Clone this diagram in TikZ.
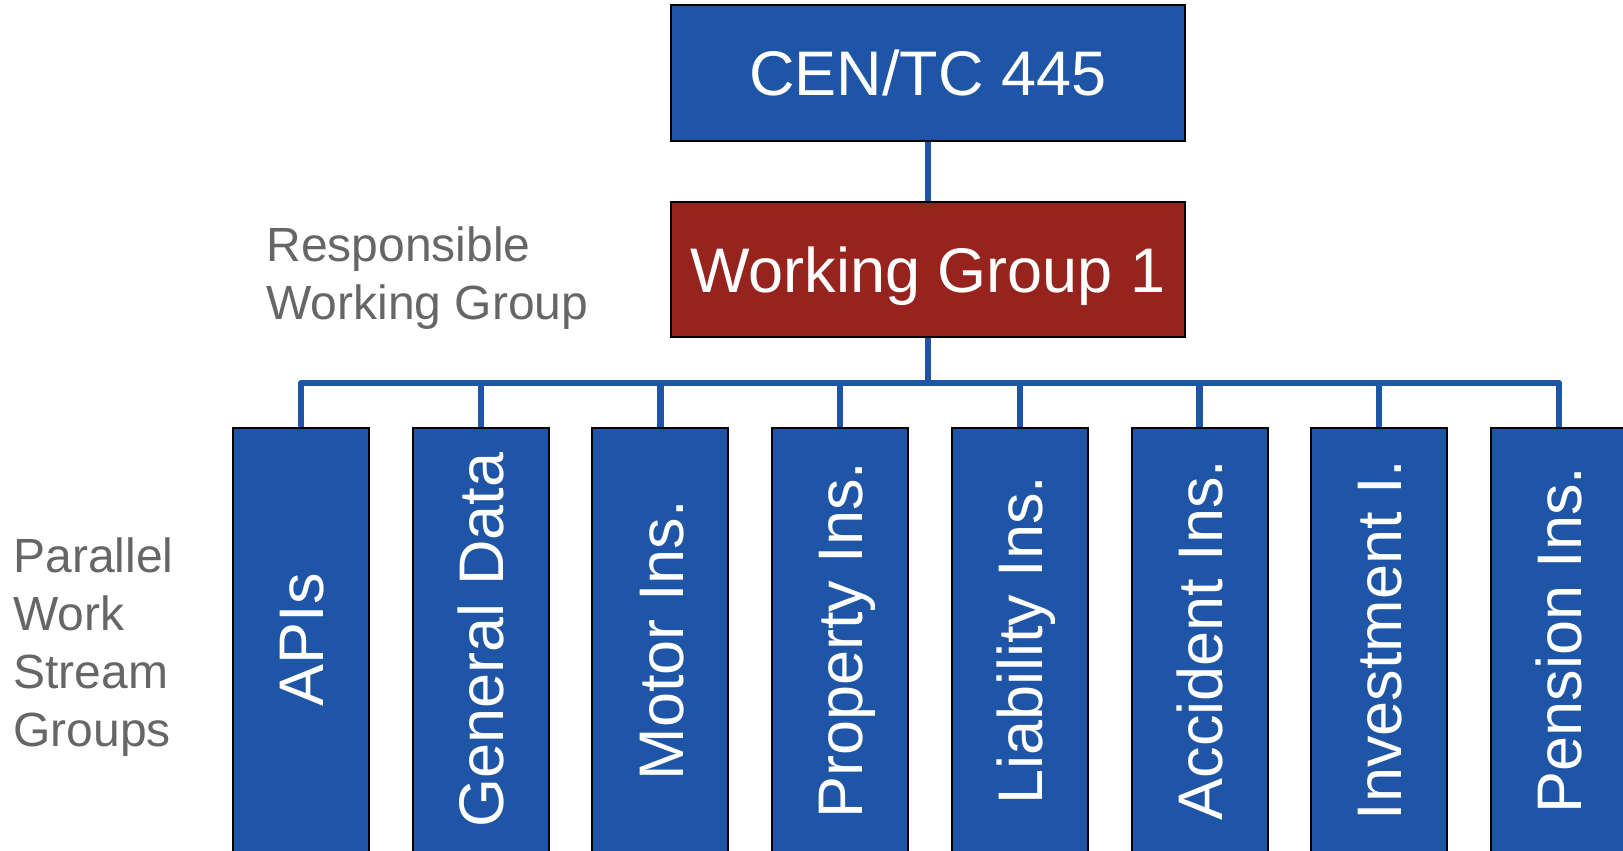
\documentclass[tikz,border=0pt]{standalone}
\usepackage{fontspec}
\setmainfont{Liberation Sans}
\definecolor{tcblue}{RGB}{31,85,166}
\definecolor{wgred}{RGB}{150,35,30}
\definecolor{notegray}{RGB}{102,102,102}
\begin{document}
\begin{tikzpicture}[x=0.5pt,y=-0.5pt,
    box/.style={draw=black,line width=1pt,fill=tcblue,text=white,inner sep=0pt,
      font=\fontsize{31.5pt}{37pt}\selectfont,text height=22.6pt,text depth=0pt},
    link/.style={draw=tcblue,line width=3.2pt,line join=round},
    note/.style={text=notegray,font=\fontsize{24pt}{29pt}\selectfont,align=left,
      anchor=north west,inner sep=0pt}]
    \useasboundingbox (0,0) rectangle (1623,851);

    \node[box,minimum width=257pt,minimum height=68pt] (tc) at (928,73) {CEN/TC 445};
    \node[box,fill=wgred,minimum width=257pt,minimum height=67.5pt] (wg) at (928,269.5) {Working Group 1};
    \coordinate (bus) at (928,383);

    \foreach \wsname [count=\i] in {APIs,General Data,Motor Ins.,Property Ins.,Liability Ins.,Accident Ins.,Investment I.,Pension Ins.}
        \node[box,rotate=90,minimum width=212pt,minimum height=68pt] (ws\i) at ({301+(\i-1)*179.7},640) {\wsname};

    \draw[link] (tc) -- (wg);
    \draw[link] (wg) -- (bus);
    \draw[link] (ws1.east) -- (ws1.east |- bus) -- (ws8.east |- bus) -- (ws8.east);
    \foreach \i in {2,...,7}
        \draw[link] (ws\i.east) -- (ws\i.east |- bus);

    \node[note] (resp) at (266,226) {Responsible\\Working Group};
    \node[note] (para) at (13,537) {Parallel\\Work\\Stream\\Groups};
\end{tikzpicture}
\end{document}
